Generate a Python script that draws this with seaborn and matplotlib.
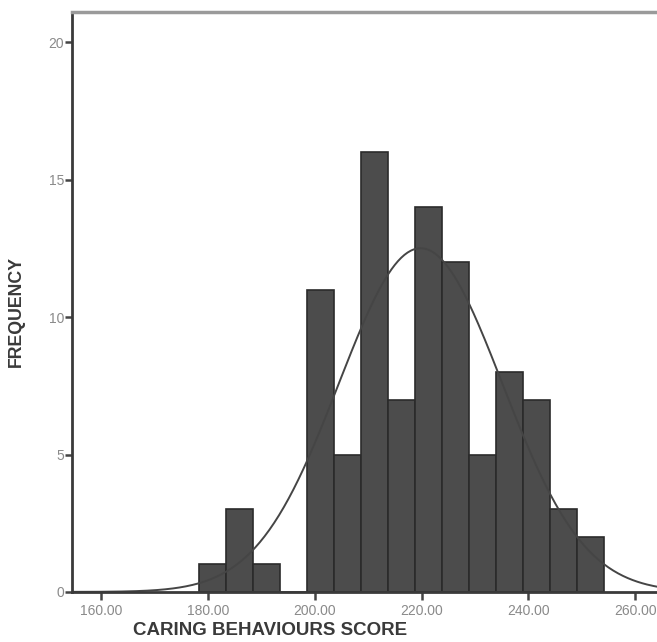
import numpy as np
import matplotlib
matplotlib.use('Agg')
import matplotlib.pyplot as plt
import pandas as pd
import seaborn as sns

# Histogram (SPSS style, bin width ~5.05)
bin_start = 178.3
bin_width = 5.05
counts = [1, 3, 1, 0, 11, 5, 16, 7, 14, 12, 5, 8, 7, 3, 2]

# fitted normal curve parameters
curve_mean = 219.8
curve_sd = 15.3

x_ticks = [160, 180, 200, 220, 240, 260]
x_tick_labels = ['160.00', '180.00', '200.00', '220.00', '240.00', '260.00']
y_ticks = [0, 5, 10, 15, 20]

edges = [bin_start + bin_width * i for i in range(len(counts) + 1)]
centers = [(edges[i] + edges[i + 1]) / 2 for i in range(len(counts))]
df = pd.DataFrame({'score': centers, 'n': counts})

sns.set_style('white')
plt.rcParams['font.family'] = ['Liberation Sans', 'DejaVu Sans']

fig = plt.figure(figsize=(6.57, 6.42), dpi=100)
ax = fig.add_axes([0.110, 0.078, 0.92, 0.903])

sns.histplot(data=df, x='score', weights='n', bins=edges, ax=ax,
             color='#4c4c4c', edgecolor='#2b2b2b', linewidth=1.2, alpha=1)

xs = np.linspace(150, 270, 400)
total = sum(counts)
ys = total * bin_width * np.exp(-0.5 * ((xs - curve_mean) / curve_sd) ** 2) / (curve_sd * np.sqrt(2 * np.pi))
ax.plot(xs, ys, color='#454545', linewidth=1.4)

ax.set_xlim(154.6, 264.1 + (0.92 * 657 - 585) / 5.335)
ax.set_ylim(0, 21.1)
ax.set_xticks(x_ticks)
ax.set_xticklabels(x_tick_labels)
ax.set_yticks(y_ticks)

ax.tick_params(axis='both', direction='out', bottom=True, left=True,
               length=6, width=1.8, color='#444444',
               labelsize=10, labelcolor='#8a8a8a')
ax.tick_params(axis='y', pad=1, length=5)
ax.tick_params(axis='x', pad=3)

for side in ['left', 'bottom']:
    ax.spines[side].set_color('#3a3a3a')
    ax.spines[side].set_linewidth(2)
ax.spines['top'].set_color('#9a9a9a')
ax.spines['top'].set_linewidth(2.5)
ax.spines['right'].set_visible(False)

ax.set_xlabel('CARING BEHAVIOURS SCORE', fontsize=13.5, fontweight='bold',
              color='#3a3a3a', va='center')
ax.set_ylabel('FREQUENCY', fontsize=12.8, fontweight='bold',
              color='#3a3a3a', va='center')
ax.xaxis.set_label_coords(0.328, -0.067)
ax.yaxis.set_label_coords(-0.092, 0.483)

plt.savefig('out.png', dpi=100)
